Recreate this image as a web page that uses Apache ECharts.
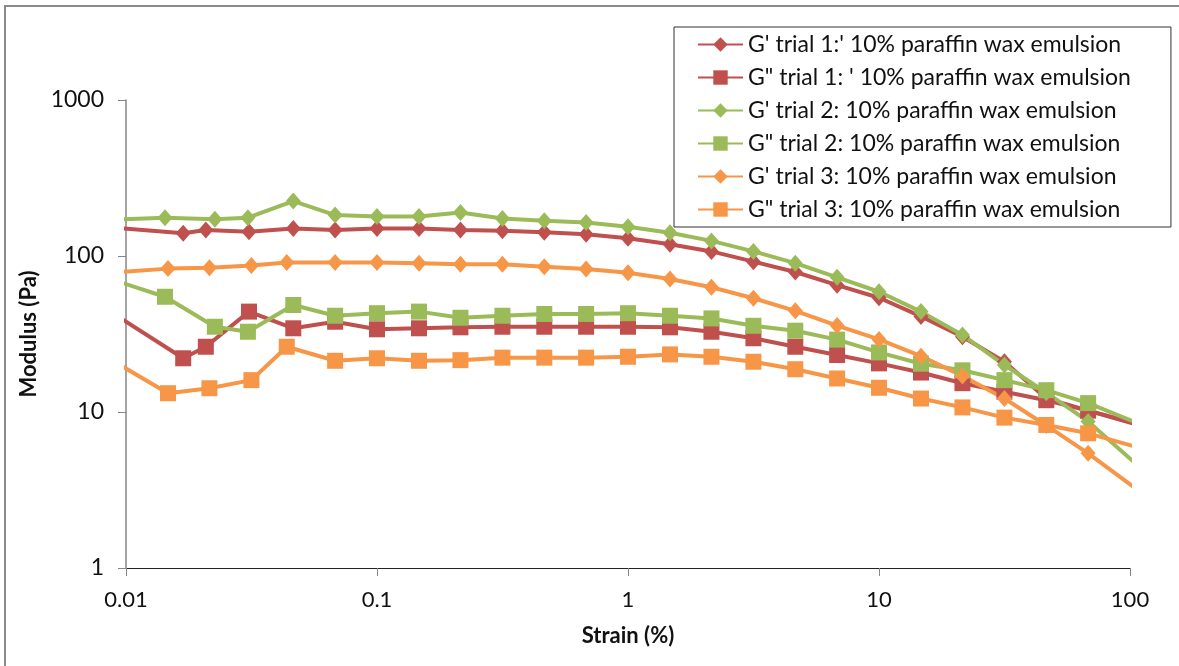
<!DOCTYPE html>
<html>
<head>
<meta charset="utf-8">
<script src="https://cdn.jsdelivr.net/npm/echarts@6/dist/echarts.min.js"></script>
<style>
  html, body { margin: 0; padding: 0; background: #ffffff; }
  #chart { width: 1179px; height: 666px; }
</style>
</head>
<body>
<div id="chart"></div>
<script>
// Strain (%) at which each trial was sampled
const strainT1 = [0.007, 0.0169, 0.0208, 0.0309, 0.0464, 0.0681, 0.1, 0.147, 0.215, 0.316, 0.464, 0.681, 1, 1.47, 2.15, 3.16, 4.64, 6.81, 10, 14.7, 21.5, 31.6, 46.4, 68.1, 150];
const strainT2 = [0.007, 0.0143, 0.0226, 0.0306, 0.0464, 0.0681, 0.1, 0.147, 0.215, 0.316, 0.464, 0.681, 1, 1.47, 2.15, 3.16, 4.64, 6.81, 10, 14.7, 21.5, 31.6, 46.4, 68.1, 150];
const strainT3 = [0.007, 0.0147, 0.0215, 0.0316, 0.0437, 0.0681, 0.1, 0.147, 0.215, 0.316, 0.464, 0.681, 1, 1.47, 2.15, 3.16, 4.64, 6.81, 10, 14.7, 21.5, 31.6, 46.4, 68.1, 150];

// Storage (G') and loss (G") modulus, Pa
const gStorage1 = [157, 140, 147, 143, 150, 147, 150, 150, 147, 145, 142, 138, 130, 119, 107, 92, 79, 65, 54, 41, 30.4, 21, 12.2, 10.2, 7.1];
const gLoss1    = [54.8, 22.1, 26.2, 44, 34.4, 37.9, 33.9, 34.4, 34.9, 35.2, 35.2, 35.2, 35.2, 34.9, 32.7, 29.7, 26.2, 23.2, 20.5, 17.9, 15.3, 13.5, 11.9, 10.2, 7.26];
const gStorage2 = [168, 176, 172, 176, 225, 183, 179, 179, 190, 174, 168, 164, 154, 141, 125, 107, 90, 73, 59, 44, 31.2, 20, 13.3, 8.7, 2.82];
const gLoss2    = [79.5, 54.8, 35.2, 32.7, 48.5, 41.4, 43, 44, 40.2, 41.4, 42.5, 42.5, 43, 41.4, 39.8, 35.7, 33.2, 29.1, 24.1, 20.4, 18.5, 16, 13.8, 11.4, 6.82];
const gStorage3 = [76.3, 83, 84, 87, 91, 91, 91, 90, 88.4, 88.4, 85.4, 82.6, 78.2, 71.2, 63, 53.6, 44.5, 35.8, 29.2, 22.8, 17, 12.2, 8.2, 5.43, 2.12];
const gLoss3    = [26.6, 13.2, 14.2, 16, 26.2, 21.3, 22.1, 21.3, 21.5, 22.3, 22.3, 22.3, 22.6, 23.4, 22.6, 21, 18.8, 16.4, 14.3, 12.2, 10.7, 9.2, 8.26, 7.3, 5.1];

const seriesNames = [
  "G' trial 1:' 10% paraffin wax emulsion",
  "G\" trial 1: ' 10% paraffin wax emulsion",
  "G' trial 2: 10% paraffin wax emulsion",
  "G\" trial 2: 10% paraffin wax emulsion",
  "G' trial 3: 10% paraffin wax emulsion",
  "G\" trial 3: 10% paraffin wax emulsion"
];

const xTickLabels = ['0.01', '0.1', '1', '10', '100'];
const yTickLabels = ['1', '10', '100', '1000'];

const RED = '#C0504D', GREEN = '#9BBB59', ORANGE = '#F79646';
const FONT = 'Lato, "Liberation Sans", sans-serif';

function pairs(xs, ys) {
  return xs.map((x, i) => [x, ys[i]]);
}

function makeSeries(name, xs, ys, color, isLoss) {
  return {
    name: name,
    type: 'line',
    data: pairs(xs, ys),
    clip: true,
    showSymbol: true,
    symbol: isLoss ? 'rect' : 'diamond',
    symbolSize: isLoss ? 16 : [15, 17],
    lineStyle: { color: color, width: 4 },
    itemStyle: { color: color, borderColor: color, borderWidth: 0 },
    emphasis: { disabled: true }
  };
}

const chart = echarts.init(document.getElementById('chart'), null, { renderer: 'canvas' });

chart.setOption({
  animation: false,
  backgroundColor: '#ffffff',
  textStyle: { fontFamily: FONT },
  graphic: [{
    type: 'rect',
    shape: { x: 5, y: 6, width: 1300, height: 800 },
    style: { fill: 'none', stroke: '#8a8a8a', lineWidth: 2 },
    silent: true,
    z: -10
  }],
  grid: { left: 126, right: 49, top: 100, bottom: 98 },
  legend: {
    orient: 'vertical',
    left: 674,
    top: 27,
    padding: [6, 40, 6, 23],
    itemWidth: 45,
    itemHeight: 18,
    itemGap: 10,
    borderColor: '#333333',
    borderWidth: 1,
    backgroundColor: '#ffffff',
    textStyle: { fontFamily: FONT, fontSize: 23, color: '#111111', lineHeight: 23 },
    data: seriesNames
  },
  xAxis: {
    type: 'log',
    logBase: 10,
    min: 0.01,
    max: 100,
    name: 'Strain (%)',
    nameLocation: 'middle',
    nameGap: 57,
    nameTextStyle: { fontFamily: FONT, fontWeight: 'bold', fontSize: 22, color: '#111111' },
    axisLine: { show: true, lineStyle: { color: '#222222', width: 1 } },
    axisTick: { show: true, inside: false, length: 8, lineStyle: { color: '#868686' } },
    minorTick: { show: false },
    splitLine: { show: false },
    axisLabel: {
      margin: 21,
      fontFamily: FONT,
      fontSize: 22,
      color: '#111111',
      formatter: v => xTickLabels[Math.round(Math.log10(v)) + 2]
    }
  },
  yAxis: {
    type: 'log',
    logBase: 10,
    min: 1,
    max: 1000,
    name: 'Modulus (Pa)',
    nameLocation: 'middle',
    nameGap: 84,
    nameRotate: 90,
    nameTextStyle: { fontFamily: FONT, fontWeight: 'bold', fontSize: 22, color: '#111111' },
    axisLine: { show: true, lineStyle: { color: '#868686', width: 1.5 } },
    axisTick: { show: true, inside: false, length: 8, lineStyle: { color: '#868686' } },
    minorTick: { show: false },
    splitLine: { show: false },
    axisLabel: {
      margin: 22,
      fontFamily: FONT,
      fontSize: 23,
      color: '#111111',
      formatter: v => yTickLabels[Math.round(Math.log10(v))]
    }
  },
  series: [
    makeSeries(seriesNames[0], strainT1, gStorage1, RED, false),
    makeSeries(seriesNames[1], strainT1, gLoss1, RED, true),
    makeSeries(seriesNames[2], strainT2, gStorage2, GREEN, false),
    makeSeries(seriesNames[3], strainT2, gLoss2, GREEN, true),
    makeSeries(seriesNames[4], strainT3, gStorage3, ORANGE, false),
    makeSeries(seriesNames[5], strainT3, gLoss3, ORANGE, true)
  ]
});
</script>
</body>
</html>
